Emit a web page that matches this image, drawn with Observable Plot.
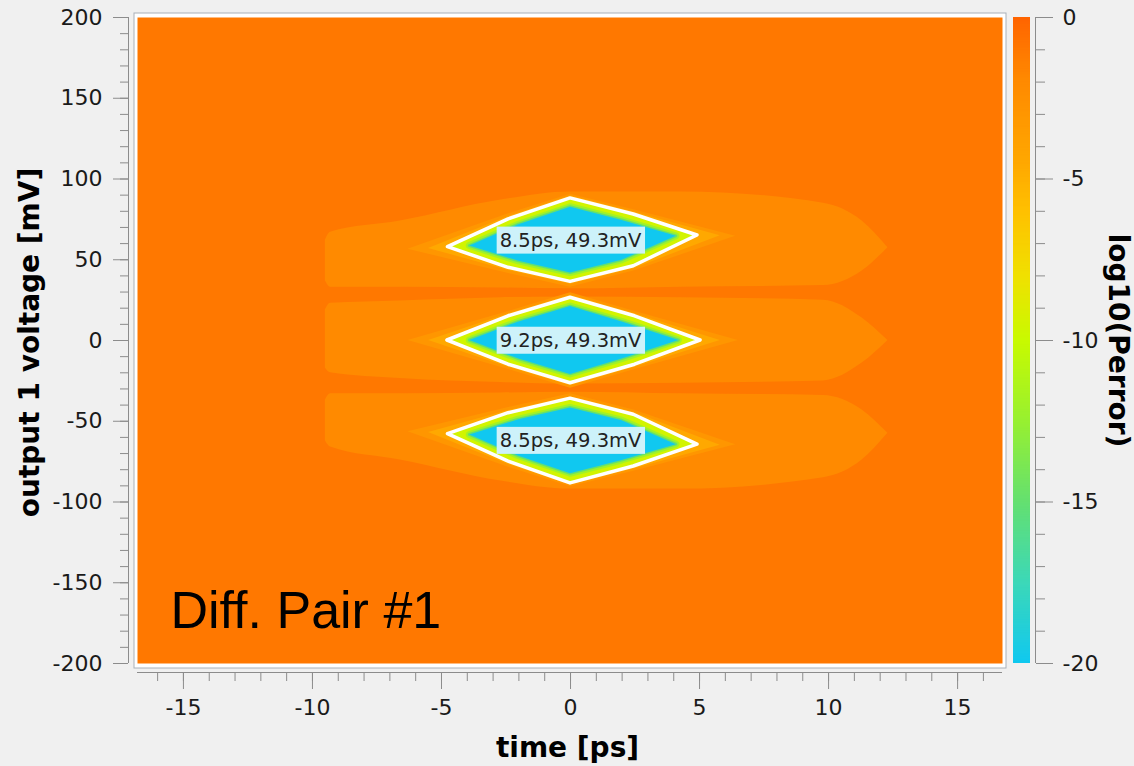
<!DOCTYPE html>
<html><head><meta charset="utf-8">
<script src="https://cdn.jsdelivr.net/npm/d3@7"></script>
<script src="https://cdn.jsdelivr.net/npm/@observablehq/plot@0.6"></script>
<style>
html,body{margin:0;padding:0;background:#f0f0f0;}
#wrap{position:relative;width:1134px;height:766px;overflow:hidden;background:#f0f0f0;}
#main{position:absolute;left:0;top:0;width:1010px;height:766px;}
#bar{position:absolute;left:1010px;top:0;width:124px;height:766px;}
</style></head><body>
<div id="wrap"><div id="main"></div><div id="bar"></div></div>
<script>
// ---- axes / ticks ----
const xDomain = [-16.78, 16.74];
const yDomain = [-200, 200];
const xMajor = [-15, -10, -5, 0, 5, 10, 15];
const yMajor = [-200, -150, -100, -50, 0, 50, 100, 150, 200];
const cMajor = [-20, -15, -10, -5, 0];
const xMinor = d3.range(-16, 17, 1);
const yMinor = d3.range(-200, 201, 10);
const cMinor = d3.range(-20, 1, 1);

// ---- colour map of log10(Perror) ----
const levelStops = [-20, -17.5, -15, -12.5, -10, -8, -6, -4.5, -3, -2, -1, 0];
const colorStops = ["#10c8f0", "#3cd8b8", "#64e070", "#98f030", "#c8fa00", "#f0e000", "#ffc000", "#ffa800", "#ff9600", "#ff8a00", "#ff7800", "#ff6400"];

// ---- contour regions: [eye, time ps, low mV, high mV] ----
const bandRows = [ // log10 ~ -2
  ["upper", -9.5, 37, 62], ["upper", -9.3, 33, 67], ["upper", -6.6, 33, 74], ["upper", -2.7, 32.5, 87], ["upper", 0, 32, 92], ["upper", 4.3, 33, 92], ["upper", 9.8, 34, 85], ["upper", 11.3, 43, 74], ["upper", 12.3, 57.5, 57.5],
  ["middle", -9.5, -17, 19], ["middle", -9.3, -20, 23], ["middle", -6.6, -23.5, 24.5], ["middle", -2.7, -26, 26.5], ["middle", 0, -27, 27], ["middle", 4.3, -26.5, 26.5], ["middle", 9.8, -25, 25], ["middle", 11.3, -14, 14], ["middle", 12.3, 0, 0],
  ["lower", -9.5, -62, -37], ["lower", -9.3, -66, -33], ["lower", -6.6, -74, -33], ["lower", -2.7, -87, -32.5], ["lower", 0, -92, -32], ["lower", 4.3, -92, -33], ["lower", 9.8, -85, -34], ["lower", 11.3, -74, -43], ["lower", 12.3, -57.5, -57.5]
];
const haloOuterRows = [ // log10 ~ -3
  ["upper", -6.3, 56.5, 56.5], ["upper", -2.4, 41.5, 78.5], ["upper", 0, 33, 90.5], ["upper", 2.45, 43, 81], ["upper", 6.4, 64.5, 64.5],
  ["middle", -6.3, 0, 0], ["middle", -2.4, -18, 18], ["middle", 0, -29.5, 29.5], ["middle", 2.5, -18, 18], ["middle", 6.5, 0, 0],
  ["lower", -6.3, -56.5, -56.5], ["lower", -2.4, -78.5, -41.5], ["lower", 0, -90.5, -33], ["lower", 2.45, -81, -43], ["lower", 6.4, -64.5, -64.5]
];
const haloInnerRows = [ // log10 ~ -4.5
  ["upper", -5.5, 57, 57], ["upper", -2.4, 43.3, 76.8], ["upper", 0, 34.8, 89.5], ["upper", 2.45, 44.5, 79.5], ["upper", 5.8, 64.8, 64.8],
  ["middle", -5.5, 0, 0], ["middle", -2.4, -16.5, 16.5], ["middle", 0, -28, 28], ["middle", 2.5, -16.5, 16.5], ["middle", 5.8, 0, 0],
  ["lower", -5.5, -57, -57], ["lower", -2.4, -76.8, -43.3], ["lower", 0, -89.5, -34.8], ["lower", 2.45, -79.5, -44.5], ["lower", 5.8, -64.8, -64.8]
];
const contourRows = [ // white contour, yellow inside
  ["upper", -4.75, 57.8, 57.8], ["upper", -2.4, 45, 75], ["upper", 0, 36.3, 88], ["upper", 2.45, 46, 78], ["upper", 4.92, 65, 65],
  ["middle", -4.77, 0, 0], ["middle", -2.4, -15, 15], ["middle", 0, -26.5, 26.5], ["middle", 2.5, -15, 15], ["middle", 5.04, 0, 0],
  ["lower", -4.75, -58, -58], ["lower", -2.4, -75, -45], ["lower", 0, -88.5, -36], ["lower", 2.45, -78, -46], ["lower", 4.92, -64.5, -64.5]
];
const coreRows = [ // log10 ~ -20
  ["upper", -3.9, 58.5, 58.5], ["upper", -2.0, 49, 71.7], ["upper", 0, 41.8, 82.5], ["upper", 2.0, 49.7, 74.3], ["upper", 4.1, 64.5, 64.5],
  ["middle", -3.9, 0, 0], ["middle", -2.0, -11.5, 11.5], ["middle", 0, -21, 21], ["middle", 2.0, -11.5, 11.5], ["middle", 4.2, 0, 0],
  ["lower", -3.9, -58.5, -58.5], ["lower", -2.0, -71.7, -49], ["lower", 0, -82.5, -41.8], ["lower", 2.0, -74.3, -49.7], ["lower", 4.1, -64.5, -64.5]
];

// ---- eye opening labels ----
const eyeLabelText = ["8.5ps, 49.3mV", "9.2ps, 49.3mV", "8.5ps, 49.3mV"];
const eyeLabelTime = [0, 0, 0];
const eyeLabelVolt = [62, 0, -62];

const heat = d3.scaleLinear().domain(levelStops).range(colorStops).interpolate(d3.interpolateRgb);
const rows = (a) => a.map(([eye, t, lo, hi]) => ({eye, t, lo, hi}));
const area = (data, fill, extra = {}) => Plot.areaY(rows(data), {x: "t", y1: "lo", y2: "hi", z: "eye", fill, ...extra});
const labels = eyeLabelText.map((text, i) => ({text, t: eyeLabelTime[i], v: eyeLabelVolt[i]}));
const tickColor = "#8c8c8c";
const textColor = "#1a1a1a";
const baseStyle = {background: "transparent", fontFamily: "DejaVu Sans", fontSize: "22px", color: textColor, overflow: "visible"};
const hyph = d => String(d);

const main = Plot.plot({
  width: 1010, height: 766,
  marginLeft: 128, marginRight: 4, marginTop: 12, marginBottom: 94,
  insetLeft: 9, insetRight: 4, insetTop: 5, insetBottom: 9,
  style: baseStyle,
  x: {domain: xDomain, label: null},
  y: {domain: yDomain, label: null},
  marks: [
    Plot.frame({fill: "#ffffff", stroke: "#a9b0b8", insetLeft: 5.5, insetTop: 0.5, insetRight: 0.5, insetBottom: 4.5}),
    Plot.frame({fill: heat(-1), insetLeft: 9, insetTop: 5, insetRight: 4, insetBottom: 9}),
    area(bandRows, heat(-2), {curve: "monotone-x"}),
    area(haloOuterRows, heat(-3)),
    area(haloInnerRows, heat(-4.5)),
    area(contourRows, heat(-9.5), {stroke: "white", strokeWidth: 3.5, strokeLinejoin: "round"}),
    area(coreRows, heat(-20), {stroke: heat(-12), strokeWidth: 7, strokeLinejoin: "round"}),
    area(coreRows, heat(-20), {stroke: heat(-15), strokeWidth: 3, strokeLinejoin: "round"}),
    area(coreRows, heat(-20)),
    Plot.text(labels, {x: "t", y: "v", text: "text", fontSize: 19.5, fill: "#222", fontFamily: "DejaVu Sans"}),
    Plot.text(["Diff. Pair #1"], {frameAnchor: "bottom-left", dx: 42, dy: -61, textAnchor: "start", lineAnchor: "middle", fontSize: 52, fontFamily: "Liberation Sans", fill: "#000"}),
    Plot.ruleY([yDomain[0]], {x1: xDomain[0], x2: xDomain[1], dy: 9, stroke: tickColor}),
    Plot.ruleX([xDomain[0]], {y1: yDomain[0], y2: yDomain[1], dx: -9, stroke: tickColor}),
    Plot.axisX(xMinor, {anchor: "bottom", tickSize: 9, tickFormat: () => "", stroke: tickColor, label: null}),
    Plot.axisX(xMajor, {anchor: "bottom", tickSize: 17, tickPadding: 10, tickFormat: hyph, stroke: tickColor, fill: textColor, label: null}),
    Plot.axisY(yMinor, {anchor: "left", tickSize: 8, tickFormat: () => "", stroke: tickColor, label: null}),
    Plot.axisY(yMajor, {anchor: "left", tickSize: 15, tickPadding: 11, tickFormat: hyph, stroke: tickColor, fill: textColor, label: null}),
    Plot.text(["time [ps]"], {frameAnchor: "bottom", dy: 76, textAnchor: "middle", lineAnchor: "middle", fontSize: 28, fontWeight: "bold", fontFamily: "DejaVu Sans", fill: "#000"}),
    Plot.text(["output 1 voltage [mV]"], {frameAnchor: "left", dx: -98, rotate: -90, textAnchor: "middle", lineAnchor: "middle", fontSize: 28, fontWeight: "bold", fontFamily: "DejaVu Sans", fill: "#000"})
  ]
});
document.getElementById("main").appendChild(main);

// label backgrounds
const svgns = "http://www.w3.org/2000/svg";
const labelSet = new Set(eyeLabelText);
main.querySelectorAll("text").forEach(t => {
  if (!labelSet.has(t.textContent)) return;
  const b = t.getBBox();
  const r = document.createElementNS(svgns, "rect");
  r.setAttribute("x", b.x - 3);
  r.setAttribute("y", b.y - 2);
  r.setAttribute("width", b.width + 6);
  r.setAttribute("height", b.height + 4);
  r.setAttribute("fill", "#cdf2fa");
  const tr = t.getAttribute("transform");
  if (tr) r.setAttribute("transform", tr);
  t.parentNode.insertBefore(r, t);
});

// ---- colour bar ----
const barStep = 0.05;
const barSteps = d3.range(-20, 0, barStep);
const bar = Plot.plot({
  width: 124, height: 766,
  marginLeft: 3, marginRight: 99, marginTop: 17, marginBottom: 103,
  insetRight: 5,
  style: baseStyle,
  x: {domain: [0, 1], label: null, axis: null},
  y: {domain: [-20, 0], label: null},
  marks: [
    Plot.rect(barSteps, {x1: 0, x2: 1, y1: d => d, y2: d => Math.min(0, d + barStep * 1.6), fill: d => heat(d + barStep / 2)}),
    Plot.ruleX([1], {y1: -20, y2: 0, dx: 5, stroke: tickColor}),
    Plot.axisY(cMinor, {anchor: "right", tickSize: 9, tickFormat: () => "", stroke: tickColor, label: null}),
    Plot.axisY(cMajor, {anchor: "right", tickSize: 17, tickPadding: 10, tickFormat: hyph, stroke: tickColor, fill: textColor, label: null}),
    Plot.text(["log10(Perror)"], {frameAnchor: "right", dx: 82, rotate: 90, textAnchor: "middle", lineAnchor: "middle", fontSize: 28, fontWeight: "bold", fontFamily: "DejaVu Sans", fill: "#000"})
  ]
});
document.getElementById("bar").appendChild(bar);
</script>
</body></html>
